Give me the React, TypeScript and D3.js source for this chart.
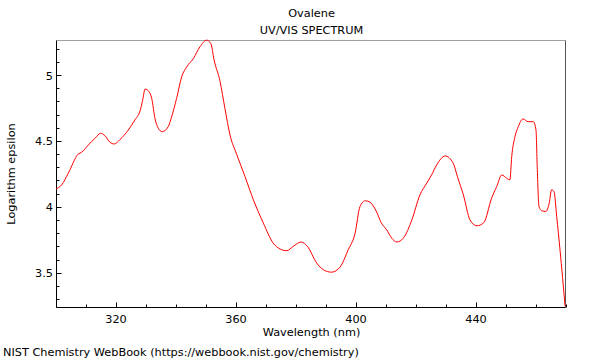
import React from "react";
import * as d3 from "d3";

const wavelengths = [
  300, 301.9, 304.1, 307.4, 308.6, 310.8, 313, 314.9, 316.3, 318, 319.4, 321.3, 324.1, 326.3, 328,
  328.8, 329.7, 331, 331.9, 333, 334.1, 335.4, 337.4, 338.5, 340.2, 341.9, 343.6, 345.8, 348, 350.2,
  351.6, 352.7, 354.7, 356.3, 358, 360.2, 363, 365.8, 369.1, 372.4, 374.7, 376.9, 379.1, 381.7,
  383.8, 386.9, 389.1, 391.8, 394.7, 397.4, 399.7, 401.3, 403.1, 404.7, 406.9, 408.4, 410.2, 411.9,
  413.6, 415.8, 418.6, 421.3, 423.6, 425.2, 426.9, 429.7, 432.4, 433.8, 435.8, 438, 440.3, 442.6,
  445.2, 446.9, 448.6, 450.2, 451.3, 451.9, 453, 454.1, 455.6, 457.4, 459.1, 460, 460.4, 461, 461.9,
  463.3, 464.4, 465.2, 466, 466.9, 468, 469.7,
];
const logEpsilon = [
  4.135, 4.167, 4.255, 4.4, 4.415, 4.47, 4.52, 4.558, 4.54, 4.49, 4.477, 4.51, 4.583, 4.66, 4.727,
  4.8, 4.894, 4.874, 4.823, 4.67, 4.596, 4.57, 4.608, 4.68, 4.823, 4.987, 5.063, 5.126, 5.215, 5.265,
  5.24, 5.114, 4.95, 4.748, 4.545, 4.4, 4.23, 4.053, 3.877, 3.725, 3.68, 3.667, 3.7, 3.733,
  3.7, 3.573, 3.523, 3.504, 3.543, 3.674, 3.8, 4.0, 4.046, 4.035, 3.96, 3.88, 3.826, 3.763,
  3.733, 3.763, 3.9, 4.09, 4.18, 4.242, 4.318, 4.386, 4.331, 4.23, 4.09, 3.9, 3.856, 3.88,
  4.066, 4.154, 4.242, 4.217, 4.205, 4.38, 4.533, 4.608, 4.667, 4.646, 4.646, 4.583, 4.306, 4.002, 3.97,
  3.965, 4.028, 4.13, 4.116, 3.927, 3.674, 3.245,
];

const xMajorTicks = [320, 360, 400, 440];
const xMinorTicks = d3.range(300, 471, 10);
const yMajorTicks = [3.5, 4, 4.5, 5];
const yMinorTicks = d3.range(3.3, 5.25, 0.1);

const titleText = "Ovalene";
const subtitleText = "UV/VIS SPECTRUM";
const xLabel = "Wavelength (nm)";
const yLabel = "Logarithm epsilon";
const footer = "NIST Chemistry WebBook (https://webbook.nist.gov/chemistry)";

export default function App() {
  const W = 600, H = 360;
  const left = 56.5, right = 565.5, top = 40.5, bottom = 307.5;
  const x = d3.scaleLinear().domain([300, 470]).range([56, 566]);
  const y = d3.scaleLinear().domain([3.236, 5.266]).range([307.5, 40]);
  const pts = wavelengths.map((w, i) => [w, logEpsilon[i]] as [number, number]);
  const line = d3
    .line<[number, number]>()
    .x((d) => x(d[0]))
    .y((d) => y(d[1]))
    .curve(d3.curveMonotoneX);
  const font = "'DejaVu Sans', sans-serif";
  return (
    <svg
      width={W}
      height={H}
      style={{ position: "absolute", left: 0, top: 0, background: "#fff" }}
      fontFamily={font}
      fontSize={11.3}
    >
      <text x={311.5} y={17} textAnchor="middle">{titleText}</text>
      <text x={311.5} y={34} textAnchor="middle">{subtitleText}</text>
      <line x1={left} x2={right} y1={top} y2={top} stroke="#a0a0a0" strokeWidth={1} />
      <line x1={right} x2={right} y1={top} y2={bottom} stroke="#555" strokeWidth={1} />
      <line x1={left} x2={left} y1={top} y2={bottom} stroke="#000" strokeWidth={1} />
      <line x1={left} x2={right} y1={bottom} y2={bottom} stroke="#000" strokeWidth={1} />
      {xMinorTicks.map((t) => (
        <line key={"xm" + t} x1={Math.round(x(t)) + 0.5} x2={Math.round(x(t)) + 0.5} y1={bottom} y2={bottom - (xMajorTicks.includes(t) ? 5 : 3)} stroke="#000" />
      ))}
      {yMinorTicks.map((t) => {
        const isMajor = yMajorTicks.some((m) => Math.abs(m - t) < 1e-6);
        return (
          <line key={"ym" + t} x1={left} x2={left + (isMajor ? 5 : 3)} y1={Math.round(y(t)) + 0.5} y2={Math.round(y(t)) + 0.5} stroke="#000" />
        );
      })}
      {xMajorTicks.map((t) => (
        <text key={"xl" + t} x={x(t)} y={323} textAnchor="middle">{t}</text>
      ))}
      {yMajorTicks.map((t) => (
        <text key={"yl" + t} x={53} y={y(t) + 4.5} textAnchor="end">{t}</text>
      ))}
      <path d={line(pts) || ""} fill="none" stroke="#ff0000" strokeWidth={1} />
      <text x={311.5} y={336} textAnchor="middle">{xLabel}</text>
      <text transform={`translate(15,174) rotate(-90)`} textAnchor="middle">{yLabel}</text>
      <text x={3} y={356}>{footer}</text>
    </svg>
  );
}
